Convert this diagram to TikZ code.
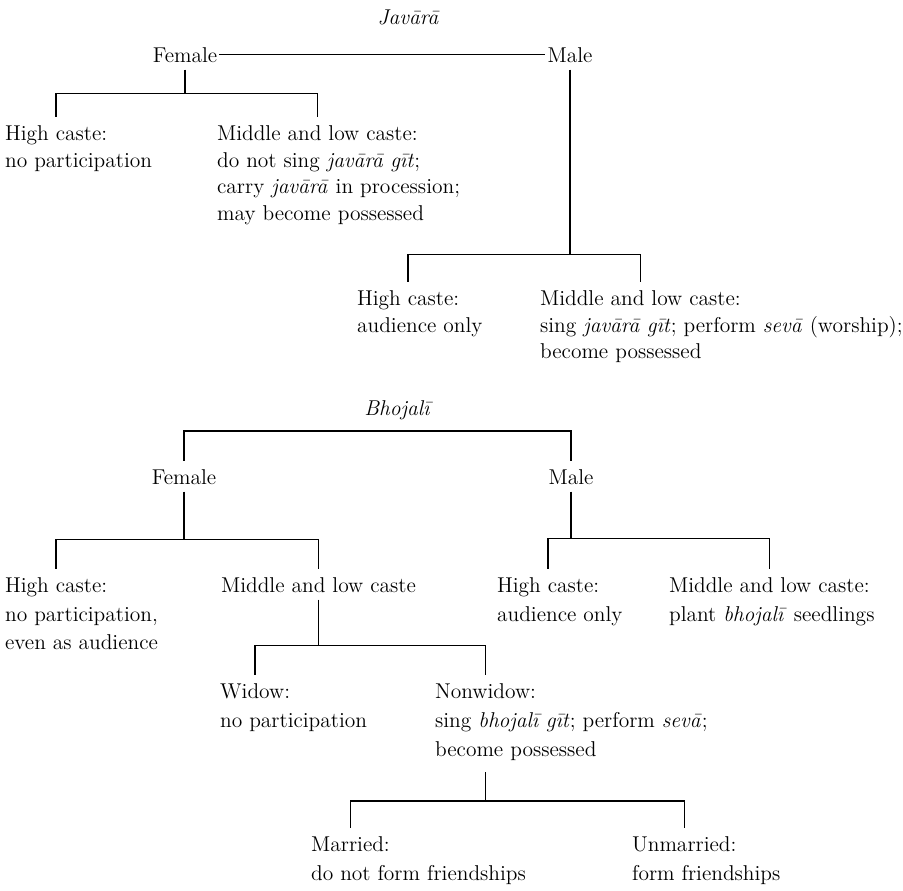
\documentclass[tikz,border=0pt]{standalone}
\usepackage{fontspec}

% text lines below a heading, baseline on the first line
\newcommand{\textlines}[1]{\begin{tabular}[t]{@{}l@{}}#1\end{tabular}}

\begin{document}
\begin{tikzpicture}[
    x=0.02cm, y=-0.02cm,
    entry/.style={inner sep=1pt, anchor=base west, font=\fontsize{12.2}{15.3}\selectfont},
    entryb/.style={entry, font=\fontsize{12.2}{16.5}\selectfont},
    gender/.style={inner sep=1pt, anchor=base, font=\fontsize{12.2}{15.3}\selectfont},
    ritual/.style={gender, font=\fontsize{12.2}{15.3}\selectfont\itshape},
    branch/.style={line width=0.9pt},
    stem/.style={branch, shorten <=3pt},
    drop/.style={branch, shorten >=3.5pt},
]

\useasboundingbox (0,0) rectangle (903,890);

% Line gaps (top and bottom tree)
\pgfmathsetmacro{\lgt}{27}
\pgfmathsetmacro{\lgb}{29}

% === Javara ===
\node[ritual] (jTitle) at (408,24) {Javārā};
\node[gender] (jFem) at (185,62) {Female};
\node[gender] (jMal) at (570,62) {Male};
\draw[branch] (jFem) -- (jMal);

% Female side
\node[entry] (jFemHi) at (3,140) {High caste:};
\node[entry] (jFemHiB) at (3,140+\lgt) {no participation};
\node[entry] (jFemMid) at (215,140) {Middle and low caste:};
\node[entry] (jFemMidB) at (215,140+\lgt) {\textlines{do not sing \textit{javārā gīt};\\
    carry \textit{javārā} in procession;\\
    may become possessed}};

\draw[stem] (jFem.south) -- ++(0,29) coordinate (jFemBar);
\draw[drop] (jFemBar) -| (jFemHi.north);
\draw[drop] (jFemBar) -| (jFemMid.north);

% Male side
\node[entry] (jMalHi) at (355,305) {High caste:};
\node[entry] (jMalHiB) at (355,305+\lgt) {audience only};
\node[entry] (jMalMid) at (538,305) {Middle and low caste:};
\node[entry] (jMalMidB) at (538,305+\lgt) {\textlines{sing \textit{javārā gīt}; perform \textit{sevā} (worship);\\
    become possessed}};

\draw[stem] (jMal.south) -- ++(0,190) coordinate (jMalBar);
\draw[drop] (jMalBar) -| (jMalHi.north);
\draw[drop] (jMalBar) -| (jMalMid.north);

% === Bhojali ===
\node[ritual] (bTitle) at (397,415) {Bhojalī};
\node[gender] (bFem) at (184,484) {Female};
\node[gender] (bMal) at (571,484) {Male};
\draw[drop, shorten <=3.5pt] (bFem.north) -- ++(0,-36) -| (bMal.north);

% Female side
\node[entryb] (bFemHi) at (3,592) {High caste:};
\node[entryb] (bFemHiB) at (3,592+\lgb) {\textlines{no participation,\\
    even as audience}};
\node[entryb] (bFemMid) at (219,592) {Middle and low caste};

\draw[stem] (bFem.south) -- ++(0,53) coordinate (bFemBar);
\draw[drop] (bFemBar) -| (bFemHi.north);
\draw[drop] (bFemBar) -| (bFemMid.north);

% Male side
\node[entryb] (bMalHi) at (495,592) {High caste:};
\node[entryb] (bMalHiB) at (495,592+\lgb) {audience only};
\node[entryb] (bMalMid) at (667,592) {Middle and low caste:};
\node[entryb] (bMalMidB) at (667,592+\lgb) {plant \textit{bhojalī} seedlings};

\draw[stem] (bMal.south) -- ++(0,52) coordinate (bMalBar);
\draw[drop] (bMalBar) -| (bMalHi.north);
\draw[drop] (bMalBar) -| (bMalMid.north);

% Widow / nonwidow
\node[entryb] (bWid) at (218,698) {Widow:};
\node[entryb] (bWidB) at (218,698+\lgb) {no participation};
\node[entryb] (bNon) at (433,698) {Nonwidow:};
\node[entryb] (bNonB) at (433,698+\lgb) {\textlines{sing \textit{bhojalī gīt}; perform \textit{sevā};\\
    become possessed}};

\draw[stem] (bFemMid.south) -- ++(0,51) coordinate (bMidBar);
\draw[drop] (bMidBar) -| (bWid.north);
\draw[drop] (bMidBar) -| (bNon.north);

% Married / unmarried
\node[entryb] (bMar) at (309,851) {Married:};
\node[entryb] (bMarB) at (309,851+\lgb) {do not form friendships};
\node[entryb] (bUnm) at (630,851) {Unmarried:};
\node[entryb] (bUnmB) at (630,851+\lgb) {form friendships};

\draw[stem] (bNon |- bNonB.south) -- ++(0,34) coordinate (bNonBar);
\draw[drop] (bNonBar) -| (bMar.north);
\draw[drop] (bNonBar) -| (bUnm.north);

\end{tikzpicture}
\end{document}
